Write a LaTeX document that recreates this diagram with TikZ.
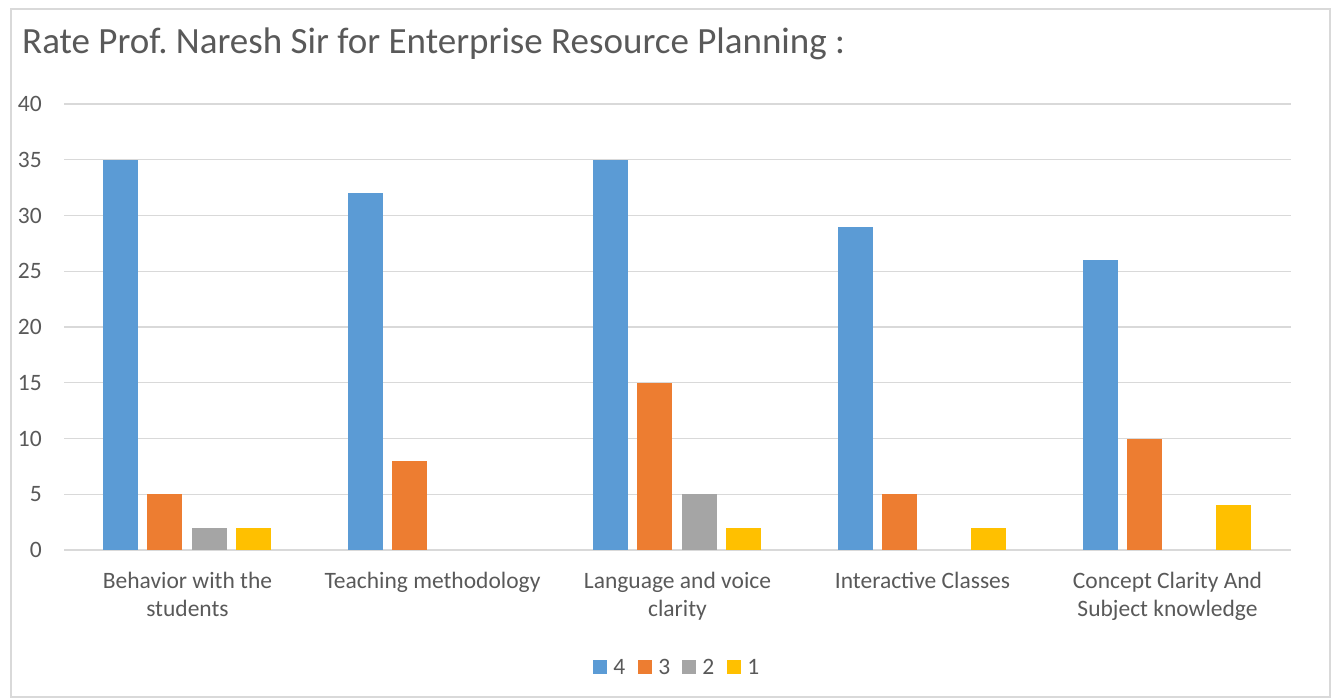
\documentclass[tikz,border=0pt]{standalone}
\usepackage{fontspec}
\setmainfont{Carlito}
\usetikzlibrary{positioning}

\definecolor{barblue}{HTML}{5B9BD5}
\definecolor{barorange}{HTML}{ED7D31}
\definecolor{bargray}{HTML}{A5A5A5}
\definecolor{baryellow}{HTML}{FFC000}
\definecolor{gridgray}{HTML}{D9D9D9}
\definecolor{labelgray}{HTML}{595959}

\tikzset{
  gridline/.style={draw=gridgray, line width=1.2bp},
  ticklabel/.style={anchor=east, inner sep=0pt, text=labelgray, font=\fontsize{23.5bp}{28bp}\selectfont},
  catlabel/.style={anchor=north, align=center, inner sep=0pt, text=labelgray, font=\fontsize{23.5bp}{28bp}\selectfont},
  legkey/.style={minimum size=14bp, inner sep=0pt},
  legtext/.style={inner sep=0pt, text=labelgray, font=\fontsize{23.5bp}{28bp}\selectfont}
}

\begin{document}
\begin{tikzpicture}[x=1bp,y=-1bp]
        \useasboundingbox (0,0) rectangle (1335,698);
        \draw[gridgray, line width=2bp] (11,9) rectangle (1330,697);

        \node[anchor=base west, inner sep=0pt, text=labelgray, font=\fontsize{37bp}{42bp}\selectfont] (title) at (22,54) {Rate Prof.\ Naresh Sir for Enterprise Resource Planning :};

        \foreach \i in {0,...,8} {
            \draw[gridline] (64, 550-55.75*\i) -- (1291, 550-55.75*\i);
            \pgfmathtruncatemacro{\val}{5*\i}
            \node[ticklabel] (tick\i) at (42, 550-55.75*\i) {\val};
        }

        \foreach \g/\a/\b/\c/\d in {0/35/5/2/2, 1/32/8/0/0, 2/35/15/5/2, 3/29/5/0/2, 4/26/10/0/4} {
            \foreach \v/\col [count=\k from 0] in {\a/barblue, \b/barorange, \c/bargray, \d/baryellow} {
                \ifnum\v>0
                    \fill[\col] (102.5+245*\g+44.5*\k, 550) rectangle ++(35, -11.15*\v);
                \fi
            }
        }

        \node[catlabel] (behavior) at (187.5,572) {Behavior with the\\students};
        \node[catlabel] (teaching) at (432.5,572) {Teaching methodology};
        \node[catlabel] (language) at (677.5,572) {Language and voice\\clarity};
        \node[catlabel] (interactive) at (922.5,572) {Interactive Classes};
        \node[catlabel] (concept) at (1167.5,572) {Concept Clarity And\\Subject knowledge};

        \node[legkey, fill=barblue] (key4) at (600,666.5) {};
        \node[legtext, right=6bp of key4] (leg4) {4};
        \node[legkey, fill=barorange] (key3) at (645,666.5) {};
        \node[legtext, right=6bp of key3] (leg3) {3};
        \node[legkey, fill=bargray] (key2) at (689,666.5) {};
        \node[legtext, right=6bp of key2] (leg2) {2};
        \node[legkey, fill=baryellow] (key1) at (734,666.5) {};
        \node[legtext, right=6bp of key1] (leg1) {1};
    \end{tikzpicture}
\end{document}
